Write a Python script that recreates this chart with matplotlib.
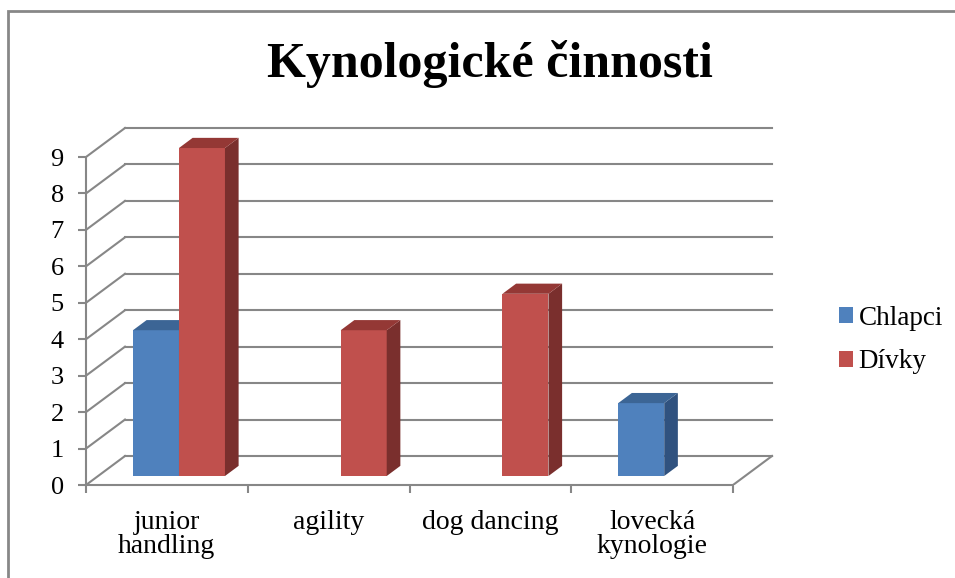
import matplotlib
matplotlib.use("Agg")
import matplotlib.pyplot as plt
from matplotlib.patches import Polygon, Patch, Rectangle

# Kynologické činnosti - 3D-looking clustered columns (Excel style)

categories = ["junior\nhandling", "agility", "dog dancing", "lovecká\nkynologie"]
series_names = ["Chlapci", "Dívky"]
chlapci = [4, 0, 0, 2]
divky = [9, 4, 5, 0]
y_ticks = list(range(0, 10))

front_cols = ["#4F81BD", "#C0504D"]
side_cols = ["#30527F", "#7A2F2D"]
top_cols = ["#3C6595", "#943835"]
GRID = "#878787"

plt.rcParams["font.family"] = ["Liberation Serif", "DejaVu Serif"]

W, H, DPI = 955, 578, 100
fig = plt.figure(figsize=(W / DPI, H / DPI), dpi=DPI)

# pixel geometry of the front plane
X0_PX, Y0_PX = 86, 485          # origin (value 0, left edge)
PX_PER_CAT = (733 - 86) / 4
PX_PER_VAL = (485 - 157) / 9
XMAX, YMAX = 4.35, 9.95
ax = fig.add_axes([X0_PX / W, (H - Y0_PX) / H,
                   XMAX * PX_PER_CAT / W, YMAX * PX_PER_VAL / H])
ax.set_xlim(0, XMAX)
ax.set_ylim(0, YMAX)
ax.patch.set_alpha(0)

# depth offset (front plane -> back wall), in data units
DX = 39 / PX_PER_CAT
DY = 29 / PX_PER_VAL
n = len(categories)

# left wall diagonals + back wall gridlines
for v in y_ticks:
    ax.plot([0, DX], [v, v + DY], color=GRID, lw=1.5, zorder=1)
    ax.plot([DX, n + DX], [v + DY, v + DY], color=GRID, lw=1.5, zorder=1)
# floor right edge
ax.plot([n, n + DX], [0, DY], color=GRID, lw=1.5, zorder=1)

# bars
bw = 46 / PX_PER_CAT
f0, f1 = 0.31, 0.66
for i in range(n):
    for s, vals in enumerate([chlapci, divky]):
        v = vals[i]
        if v == 0:
            continue
        left = i + 0.5 - bw + s * bw + f0 * DX
        right = left + bw
        ddx, ddy = (f1 - f0) * DX, (f1 - f0) * DY
        base = f0 * DY
        ax.bar(left, v, bottom=base, width=bw, align="edge",
               color=front_cols[s], edgecolor="none", zorder=3 + s)
        ax.add_patch(Polygon([(right, base), (right + ddx, base + ddy),
                              (right + ddx, base + ddy + v), (right, base + v)],
                             closed=True, facecolor=side_cols[s],
                             edgecolor="none", zorder=3 + s))
        ax.add_patch(Polygon([(left, base + v), (right, base + v),
                              (right + ddx, base + v + ddy),
                              (left + ddx, base + v + ddy)],
                             closed=True, facecolor=top_cols[s],
                             edgecolor="none", zorder=3 + s))

# axes spines / ticks on the front plane
for side in ["top", "right"]:
    ax.spines[side].set_visible(False)
ax.spines["left"].set_bounds(0, 9)
ax.spines["bottom"].set_bounds(0, n)
for side in ["left", "bottom"]:
    ax.spines[side].set_color(GRID)
    ax.spines[side].set_linewidth(1.5)
ax.set_yticks(y_ticks)
ax.set_yticklabels([str(t) for t in y_ticks], fontsize=19)
ax.tick_params(axis="y", direction="out", length=6, width=1.5,
               color=GRID, pad=10)
ax.set_xticks(range(n + 1))
ax.set_xticklabels([""] * (n + 1))
ax.tick_params(axis="x", which="major", direction="out", length=6,
               width=1.5, color=GRID)
ax.set_xticks([i + 0.5 for i in range(n)], minor=True)
ax.set_xticklabels(categories, minor=True, fontsize=20, linespacing=0.95)
ax.tick_params(axis="x", which="minor", length=0, pad=18)

# title
fig.text(490 / W, 1 - 77 / H, "Kynologické činnosti", ha="center",
         va="baseline", fontsize=36, fontweight="bold")

# legend
handles = [Patch(facecolor=c, edgecolor="none") for c in front_cols]
fig.legend(handles, series_names, loc="center left",
           bbox_to_anchor=(839 / W, 1 - 340 / H), frameon=False,
           fontsize=19.5, handlelength=0.52, handleheight=0.52,
           handletextpad=0.2, labelspacing=0.7, borderpad=0,
           borderaxespad=0)

# outer chart-area border (right/bottom edges cut off)
fig.add_artist(Rectangle((8 / W, -0.1), 1.2, 1 - 11.3 / H + 0.1,
                         transform=fig.transFigure, fill=False,
                         edgecolor="#878787", lw=2.0))

fig.savefig("out.png", dpi=DPI)
